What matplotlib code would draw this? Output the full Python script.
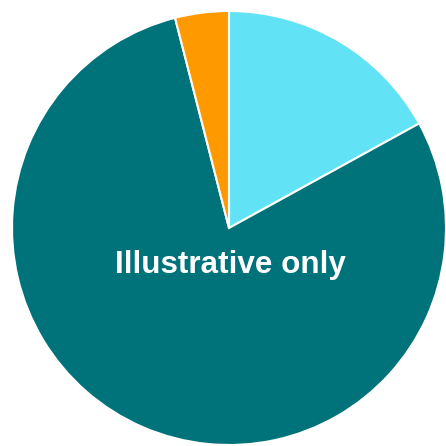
import matplotlib
matplotlib.use("Agg")
import matplotlib.pyplot as plt

labels = ["A", "B", "C"]
values = [17, 79, 4]
colors = ["#62E3F5", "#00727A", "#FF9900"]

fig = plt.figure(figsize=(4.46, 4.46), dpi=100)
ax = fig.add_axes([0, 0, 1, 1])

ax.pie(values, colors=colors, startangle=90, counterclock=False,
       wedgeprops=dict(edgecolor="white", linewidth=1.5))

# pie sits a bit off-centre and touches the right edge
r = 217.0
ax.set_xlim(-229 / r, -229 / r + 446 / r)
ax.set_ylim(228 / r - 446 / r, 228 / r)
ax.set_aspect("equal")
ax.axis("off")

ax.text(1.5 / r, -45 / r, "Illustrative only", color="white", fontsize=22.6,
        fontweight="bold", family=["Liberation Sans", "DejaVu Sans"],
        ha="center", va="baseline")

fig.savefig("out.png", dpi=100)
